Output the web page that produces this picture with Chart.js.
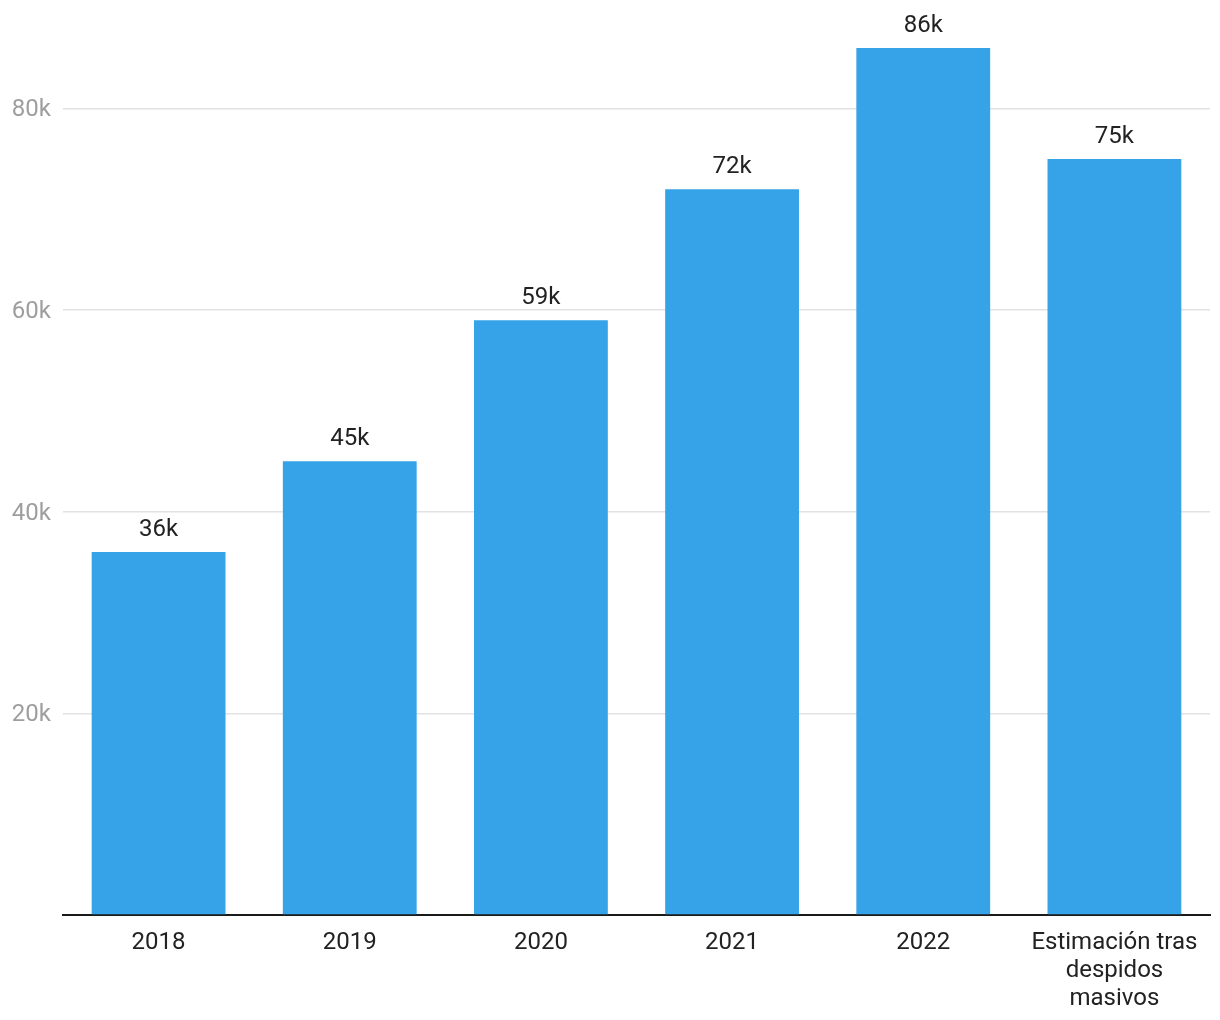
<!DOCTYPE html>
<html>
<head>
<meta charset="utf-8">
<script src="https://cdn.jsdelivr.net/npm/chart.js@4/dist/chart.umd.min.js"></script>
<style>
  html, body { margin: 0; padding: 0; background: #fff; }
  #wrap { width: 1220px; height: 1020px; position: relative; }
</style>
</head>
<body>
<div id="wrap"><canvas id="c"></canvas></div>
<script>
const categories = ['2018', '2019', '2020', '2021', '2022', ['Estimación tras', 'despidos', 'masivos']];
const values = [36000, 45000, 59000, 72000, 86000, 75000];
const valueLabels = ['36k', '45k', '59k', '72k', '86k', '75k'];
const yTickValues = [20000, 40000, 60000, 80000];

const barLabels = {
  id: 'barLabels',
  afterDatasetsDraw(chart) {
    const ctx = chart.ctx;
    const meta = chart.getDatasetMeta(0);
    ctx.save();
    ctx.font = '24px Roboto';
    ctx.fillStyle = '#222222';
    ctx.textAlign = 'center';
    ctx.textBaseline = 'middle';
    meta.data.forEach((bar, i) => {
      ctx.fillText(valueLabels[i], bar.x, bar.y - 22);
    });
    ctx.restore();
  }
};

new Chart(document.getElementById('c'), {
  type: 'bar',
  data: {
    labels: categories,
    datasets: [{
      data: values,
      backgroundColor: '#36A3E8',
      borderWidth: 0,
      barPercentage: 0.7,
      categoryPercentage: 1.0
    }]
  },
  options: {
    responsive: true,
    maintainAspectRatio: false,
    animation: false,
    layout: { padding: { top: 48, right: 10, left: 0, bottom: 0 } },
    plugins: { legend: { display: false }, tooltip: { enabled: false } },
    scales: {
      x: {
        grid: { display: false, drawTicks: false },
        border: { display: true, color: '#1a1a1a', width: 2 },
        ticks: {
          color: '#222222',
          font: { family: 'Roboto', size: 24, lineHeight: 1.17 },
          padding: 14,
          maxRotation: 0,
          autoSkip: false
        },
        afterFit(scale) { scale.height = 105; }
      },
      y: {
        min: 0,
        max: 86000,
        afterBuildTicks(scale) {
          scale.ticks = [0].concat(yTickValues).map(v => ({ value: v }));
        },
        grid: { color: '#e2e2e2', lineWidth: 1.5, drawTicks: false },
        border: { display: false },
        ticks: {
          color: '#9e9e9e',
          font: { family: 'Roboto', size: 24 },
          padding: 12,
          labelOffset: 2,
          callback: (v) => v === 0 ? '' : (v / 1000) + 'k'
        },
        afterFit(scale) { scale.width = 63; }
      }
    }
  },
  plugins: [barLabels]
});
</script>
</body>
</html>
